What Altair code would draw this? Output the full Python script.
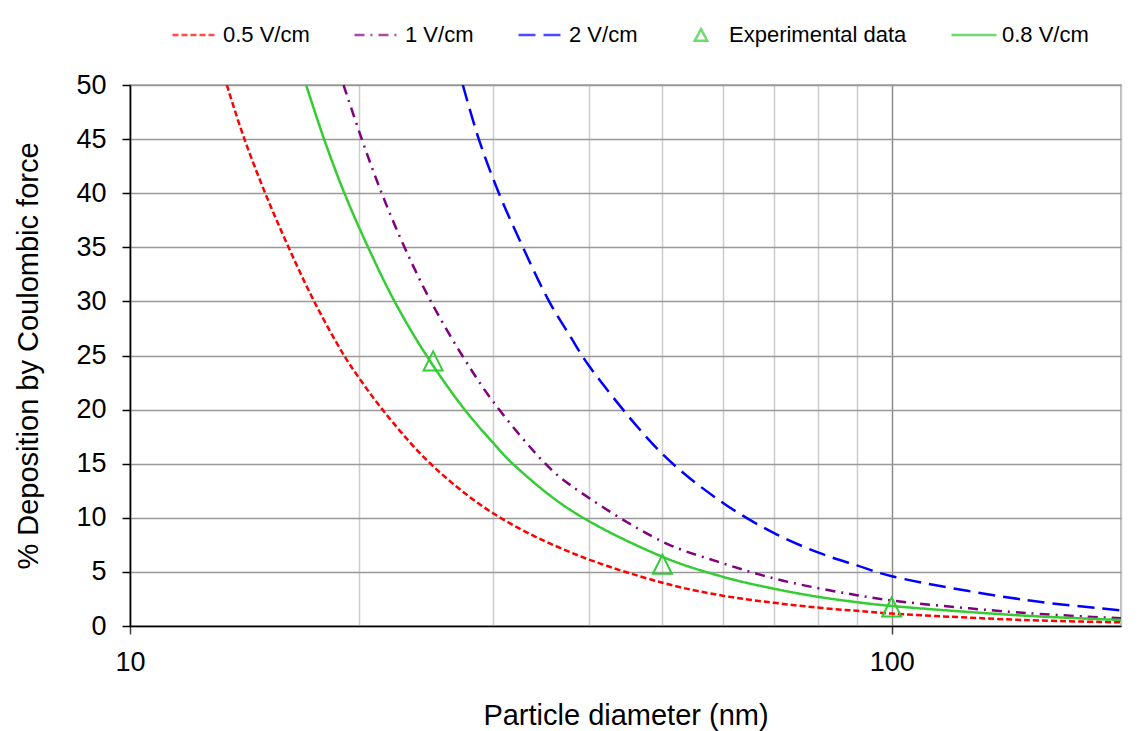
import altair as alt
import pandas as pd

# ---- data (particle diameter in nm, % deposition) ----
red_d = [13.4, 14.1, 15.05, 16.15, 17.45, 19.1, 20, 21.45, 24.8, 30, 37.9, 50, 60, 70, 80, 90, 100, 150, 200]
red_y = [50, 45.2, 40, 35, 30, 25, 22.9, 20, 15, 10.4, 6.8, 4.0, 2.8, 2.15, 1.7, 1.4, 1.15, 0.55, 0.34]

purple_d = [19.07, 20.15, 21.4, 22.93, 24.83, 27.3, 30, 35.1, 37.9, 50, 60, 70, 80, 90, 100, 150, 200]
purple_y = [50, 45, 40, 35, 30, 25, 20.7, 15, 13.0, 7.8, 5.8, 4.4, 3.5, 2.85, 2.35, 1.2, 0.72]

blue_d = [27.35, 28.7, 30.5, 32.8, 35.5, 37.9, 40, 50, 60, 70, 80, 90, 100, 150, 200]
blue_y = [50, 45, 40, 35, 30, 26.7, 24.1, 15.9, 11.4, 8.6, 6.8, 5.6, 4.6, 2.4, 1.45]

green_d = [17.03, 17.98, 19.12, 20.54, 22.25, 24.5, 27.5, 30, 31.8, 37.9, 50, 60, 70, 80, 90, 100, 150, 200]
green_y = [50, 45, 40, 35, 30, 25, 20, 16.9, 15, 10.7, 6.4, 4.55, 3.45, 2.7, 2.2, 1.85, 0.95, 0.56]

exp_d = [25, 50, 100]
exp_y = [24.5, 5.7, 1.75]

series_names = ["0.5 V/cm", "1 V/cm", "2 V/cm", "Experimental data", "0.8 V/cm"]
series_colors = ["#ff0000", "#800080", "#0000ff", "#33cc33", "#33cc33"]
series_dash = [[6, 3], [10, 6, 2, 6], [17, 8], [1, 0], [1, 0]]
TRI = "M-1,1L1,1L0,-1Z"
TRI_LEGEND = "M-0.28,0.26L0.28,0.26L0,-0.26Z"
series_shapes = ["stroke", "stroke", "stroke", TRI_LEGEND, "stroke"]

x_tick_values = [10, 20, 30, 40, 50, 60, 70, 80, 90, 100, 200]
y_tick_values = [0, 2.5, 5, 7.5, 10, 12.5, 15, 17.5, 20, 22.5, 25, 27.5, 30,
                 32.5, 35, 37.5, 40, 42.5, 45, 47.5, 50]

rows = []
for name, ds, ys in [("0.5 V/cm", red_d, red_y), ("1 V/cm", purple_d, purple_y),
                     ("2 V/cm", blue_d, blue_y), ("0.8 V/cm", green_d, green_y)]:
    for d, y in zip(ds, ys):
        rows.append({"d": d, "y": y, "series": name})
lines_df = pd.DataFrame(rows)
exp_df = pd.DataFrame({"d": exp_d, "y": exp_y, "series": ["Experimental data"] * len(exp_d)})

FONT = "Liberation Sans"

x_scale = alt.Scale(type="log", domain=[10, 200], nice=False)
y_scale = alt.Scale(domain=[0, 50], nice=False)

x_axis = alt.Axis(
    title="Particle diameter (nm)",
    values=x_tick_values,
    labelExpr="(datum.value == 10 || datum.value == 100) ? datum.label : ''",
    labelFlush=False,
    labelOverlap=False,
    grid=True,
    gridColor={"condition": {"test": "datum.value == 10 || datum.value == 100", "value": "#8c8c8c"}, "value": "#cccccc"},
    gridWidth=1.5,
    tickSize={"condition": {"test": "datum.value == 10 || datum.value == 100", "value": 8}, "value": 0},
    tickColor="#404040",
    tickWidth=1.5,
    domainColor="#000000",
    domainWidth=1.5,
    labelFont=FONT,
    labelFontSize=27,
    labelColor="#000000",
    labelPadding=15,
    titleFont=FONT,
    titleFontSize=29,
    titleFontWeight="normal",
    titleColor="#000000",
    titlePadding=26,
)

y_axis = alt.Axis(
    title="% Deposition by Coulombic force",
    values=y_tick_values,
    labelExpr="datum.value % 5 === 0 ? datum.label : ''",
    labelOverlap=False,
    grid=True,
    gridColor={"condition": {"test": "datum.value % 5 === 0", "value": "#999999"}, "value": "#d6d6d6"},
    gridWidth=1.5,
    tickSize={"condition": {"test": "datum.value % 5 === 0", "value": 8}, "value": 0},
    tickColor="#000000",
    tickWidth=1.5,
    domainColor="#000000",
    domainWidth=1.5,
    labelFont=FONT,
    labelFontSize=27,
    labelColor="#000000",
    labelPadding=16,
    titleFont=FONT,
    titleFontSize=29,
    titleFontWeight="normal",
    titleColor="#000000",
    titlePadding=32,
)

legend = alt.Legend(
    title=None,
    orient="none",
    direction="horizontal",
    legendX=41,
    legendY=-74,
    labelFont=FONT,
    labelFontSize=22,
    labelColor="#000000",
    labelOffset=4,
    labelLimit=400,
    columnPadding=39,
    symbolSize=2025,
    symbolStrokeWidth=2.5,
    symbolFillColor="transparent",
)

color_enc = alt.Color("series:N", scale=alt.Scale(domain=series_names, range=series_colors),
                      legend=legend, sort=series_names)

lines = alt.Chart(lines_df).mark_line(strokeWidth=2.5, interpolate="catmull-rom", clip=True).encode(
    x=alt.X("d:Q", scale=x_scale, axis=x_axis),
    y=alt.Y("y:Q", scale=y_scale, axis=y_axis),
    color=color_enc,
    strokeDash=alt.StrokeDash("series:N", scale=alt.Scale(domain=series_names, range=series_dash),
                              legend=legend, sort=series_names),
    detail="series:N",
)

# layer that only feeds the legend (symbol shape per entry)
legend_feed = alt.Chart(exp_df).transform_filter("false").mark_point(filled=False).encode(
    x=alt.X("d:Q", scale=x_scale),
    y=alt.Y("y:Q", scale=y_scale),
    color=color_enc,
    shape=alt.Shape("series:N", scale=alt.Scale(domain=series_names, range=series_shapes),
                    legend=legend, sort=series_names),
)

points = alt.Chart(exp_df).mark_point(filled=False, size=360, strokeWidth=2, opacity=1,
                                      shape=TRI, color="#33cc33").encode(
    x=alt.X("d:Q", scale=x_scale),
    y=alt.Y("y:Q", scale=y_scale),
)

chart = alt.layer(lines, legend_feed, points).properties(
    width=991,
    height=541,
    padding={"left": 130, "top": 85, "right": 21, "bottom": 105},
    autosize=alt.AutoSizeParams(type="none"),
    background="#ffffff",
).configure_view(
    stroke="#a0a0a0",
    strokeWidth=1.5,
)

chart.save("out.html", embed_options={"renderer": "svg", "actions": False})
